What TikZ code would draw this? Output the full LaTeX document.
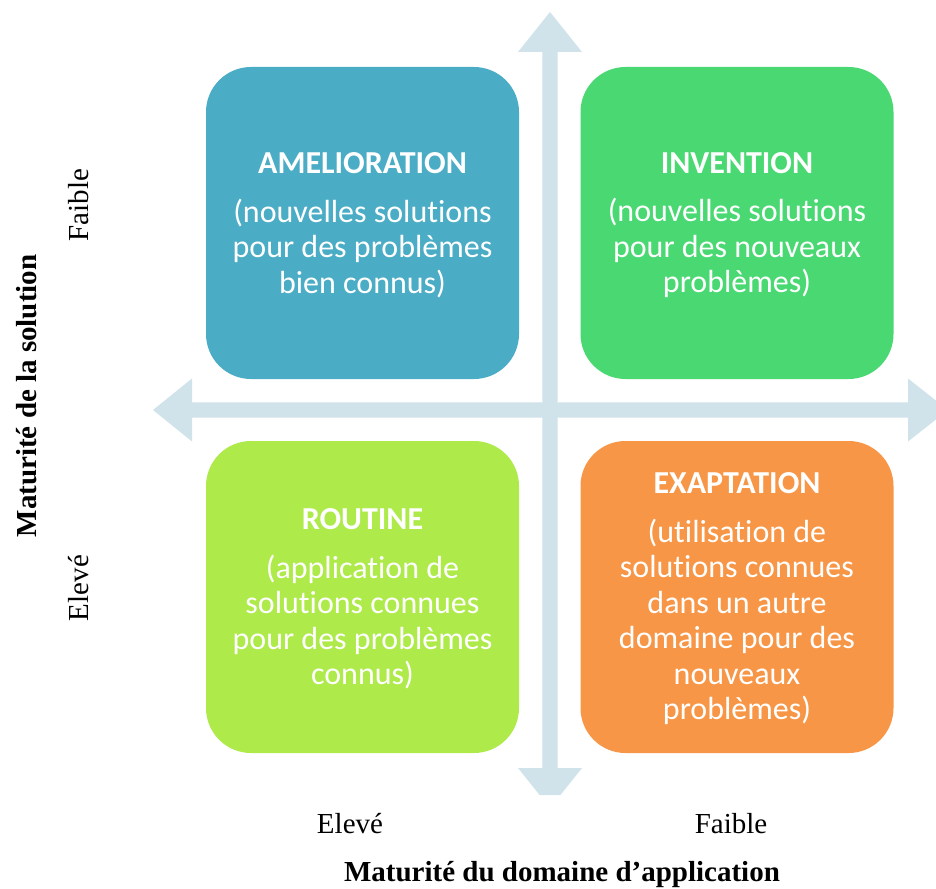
\documentclass[tikz,border=0pt]{standalone}
\usepackage{fontspec}
\setmainfont{Liberation Serif}
\newfontfamily\boxfont[Ligatures={NoCommon,NoRare,NoContextual}]{Carlito}
\definecolor{arrowc}{HTML}{D0E2EA}
\definecolor{cblue}{HTML}{4BACC6}
\definecolor{cgreen}{HTML}{4AD873}
\definecolor{clime}{HTML}{AEEA4A}
\definecolor{corange}{HTML}{F79646}
\begin{document}
\begin{tikzpicture}[x=1pt,y=-1pt,
  quad/.style={rounded corners=45pt, minimum width=313pt, minimum height=312pt,
    inner sep=0pt, text=white, align=center,
    font=\boxfont\fontsize{32}{35.5}\selectfont},
  axislabel/.style={font=\fontsize{29}{32}\selectfont, anchor=base},
  axistitle/.style={font=\bfseries\fontsize{29}{32}\selectfont, anchor=base},
  arrowshape/.style={fill=arrowc, draw=none}]
\useasboundingbox (0,0) rectangle (936,888);
\begin{scope}
\clip (0,0) rectangle (936,888);
% vertical double arrow
\fill[arrowshape] (550,12) -- (582,52) -- (557.7,52) -- (557.7,768) -- (582,768)
  -- (560.4,795) -- (539.6,795) -- (518,768) -- (542.3,768) -- (542.3,52) -- (518,52) -- cycle;
% horizontal double arrow
\fill[arrowshape] (153,410) -- (192,378.5) -- (192,402.3) -- (908,402.3) -- (908,378.5)
  -- (948,410) -- (908,441.5) -- (908,417.7) -- (192,417.7) -- (192,441.5) -- cycle;
\end{scope}
% quadrants
\node[quad, fill=cblue] (amel) at (362.5,223) {};
\node[quad, fill=cgreen] (inv) at (737,223) {};
\node[quad, fill=clime] (rout) at (362.5,597) {};
\node[quad, fill=corange] (exap) at (737,597) {};
\node[quad, draw=none, fill=none] (amelt) at ([yshift=-2pt]amel.center)
  {{\bfseries AMELIORATION}\\[13pt](nouvelles solutions\\pour des problèmes\\bien connus)};
\node[quad, draw=none, fill=none] (invt) at ([yshift=-2pt]inv.center)
  {{\bfseries INVENTION}\\[13pt](nouvelles solutions\\pour des nouveaux\\problèmes)};
\node[quad, draw=none, fill=none] (routt) at ([yshift=-2pt]rout.center)
  {{\bfseries ROUTINE}\\[13pt](application de\\solutions connues\\pour des problèmes\\connus)};
\node[quad, draw=none, fill=none] (exapt) at ([yshift=-2pt]exap.center)
  {{\bfseries EXAPTATION}\\[13pt](utilisation de\\solutions connues\\dans un autre\\domaine pour des\\nouveaux\\problèmes)};
% axis labels
\node[axislabel, rotate=90] (yfaible) at (88,205) {Faible};
\node[axislabel, rotate=90] (yeleve) at (88,588) {Elevé};
\node[axistitle, rotate=90] (ytitle) at (36,396) {Maturité de la solution};
\node[axislabel] (xeleve) at (350,833) {Elevé};
\node[axislabel] (xfaible) at (731,833) {Faible};
\node[axistitle] (xtitle) at (562,881) {Maturité du domaine d’application};
\end{tikzpicture}
\end{document}
